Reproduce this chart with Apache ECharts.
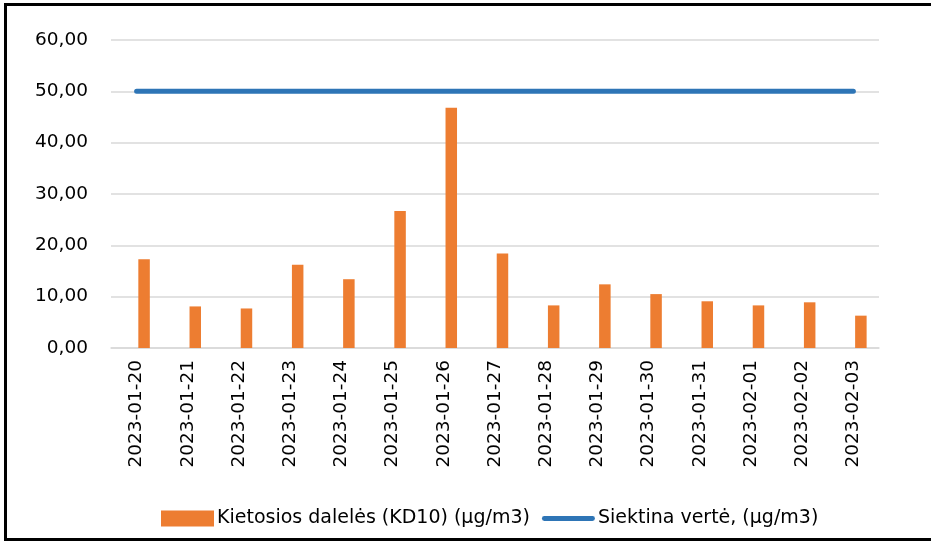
<!DOCTYPE html>
<html>
<head>
<meta charset="utf-8">
<script src="https://cdn.jsdelivr.net/npm/echarts@6/dist/echarts.min.js"></script>
<style>
  html, body { margin: 0; padding: 0; background: #fff; overflow: hidden; }
  #frame { position: absolute; left: 4px; top: 3px; width: 927px; height: 538px; border-left: 3px solid #000; border-top: 3px solid #000; border-bottom: 3px solid #000; box-sizing: border-box; }
  #chart { position: absolute; left: 0; top: 0; width: 931px; height: 541px; }
</style>
</head>
<body>
<div id="frame"></div>
<div id="chart"></div>
<script>
const dates = ['2023-01-20', '2023-01-21', '2023-01-22', '2023-01-23', '2023-01-24', '2023-01-25', '2023-01-26',
  '2023-01-27', '2023-01-28', '2023-01-29', '2023-01-30', '2023-01-31', '2023-02-01', '2023-02-02', '2023-02-03'];
const kd10 = [17.3, 8.1, 7.7, 16.2, 13.4, 26.7, 46.8, 18.4, 8.3, 12.4, 10.5, 9.1, 8.3, 8.9, 6.3];
const target = [50, 50, 50, 50, 50, 50, 50, 50, 50, 50, 50, 50, 50, 50, 50];
const seriesNames = ['Kietosios dalelės (KD10) (µg/m3)', 'Siektina vertė, (µg/m3)'];

// thick line with round ends for the legend
const lineIcon = 'path://M2.5,0 L52.5,0 A2.5,2.5 0 0 1 52.5,5 L2.5,5 A2.5,2.5 0 0 1 2.5,0 Z';

const chart = echarts.init(document.getElementById('chart'));
const font = 'DejaVu Sans';
chart.setOption({
  animation: false,
  textStyle: { fontFamily: font },
  grid: { left: 111, right: 52, top: 40, bottom: 193 },
  legend: {
    bottom: 8,
    left: 156,
    itemWidth: 53,
    itemHeight: 16,
    itemGap: 12,
    textStyle: { fontFamily: font, fontSize: 19, color: '#000', padding: [0, 0, 0, -2] },
    data: [
      { name: seriesNames[0], icon: 'rect' },
      { name: seriesNames[1], icon: lineIcon, itemStyle: { color: '#2E75B6' } }
    ]
  },
  xAxis: {
    type: 'category',
    data: dates,
    axisTick: { show: false },
    axisLine: { lineStyle: { color: '#D9D9D9', width: 1.5 } },
    axisLabel: { rotate: 90, margin: 12, fontSize: 18.5, color: '#000', fontFamily: font }
  },
  yAxis: {
    type: 'value',
    min: 0,
    max: 60,
    interval: 10,
    axisLine: { show: false },
    axisTick: { show: false },
    axisLabel: {
      margin: 23, fontSize: 18.5, color: '#000', fontFamily: font,
      formatter: (v) => v.toFixed(2).replace('.', ',')
    },
    splitLine: { lineStyle: { color: '#D9D9D9', width: 1.5 } }
  },
  series: [
    {
      // empty slot, the real bars sit right of the category centre
      name: 'gap',
      type: 'bar',
      data: [],
      barWidth: 11.5,
      barGap: '30%'
    },
    {
      name: seriesNames[0],
      type: 'bar',
      data: kd10,
      barWidth: 11.5,
      barGap: '30%',
      itemStyle: { color: '#ED7D31' }
    },
    {
      name: seriesNames[1],
      type: 'line',
      data: target,
      symbol: 'none',
      lineStyle: { color: '#2E75B6', width: 5, cap: 'round' },
      itemStyle: { color: '#2E75B6' }
    }
  ]
});
</script>
</body>
</html>
